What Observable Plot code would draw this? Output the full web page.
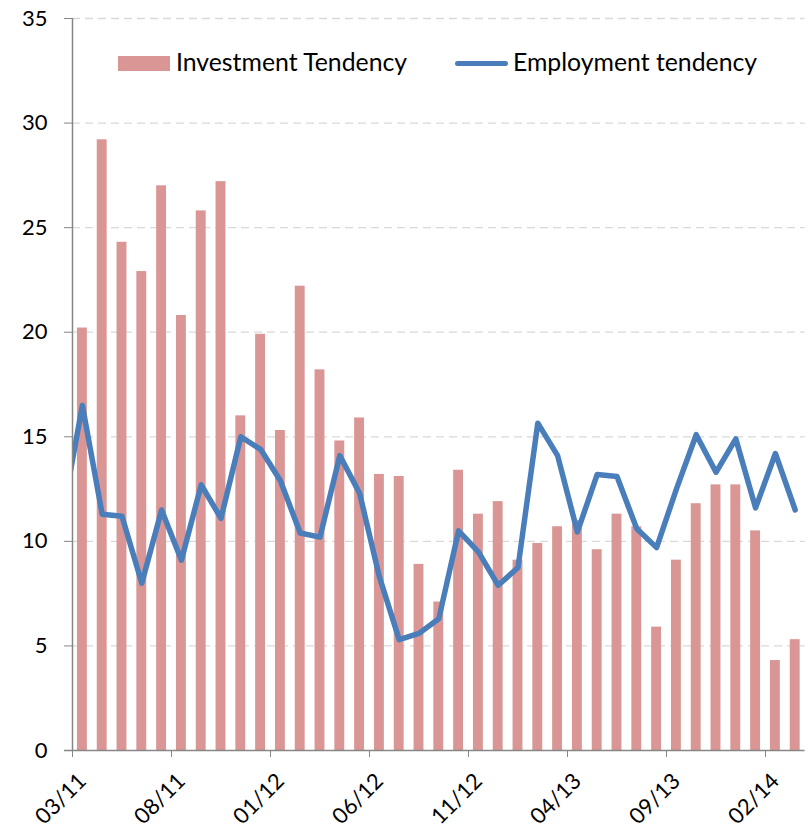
<!DOCTYPE html>
<html>
<head>
<meta charset="utf-8">
<script src="https://cdn.jsdelivr.net/npm/d3@7"></script>
<script src="https://cdn.jsdelivr.net/npm/@observablehq/plot@0.6"></script>
<style>
  body { margin: 0; background: #fff; }
  #wrap { position: relative; width: 809px; height: 832px; font-family: Lato, "Open Sans", sans-serif; }
  #wrap svg { display: block; }
  .lg { position: absolute; line-height: 1; font-size: 24.8px; color: #000; white-space: nowrap; }
  .sw { position: absolute; }
</style>
</head>
<body>
<div id="wrap"></div>
<script>
// Months shown (one bar per month, 03/11 .. 03/14)
const months = ["03/11","04/11","05/11","06/11","07/11","08/11","09/11","10/11","11/11","12/11",
  "01/12","02/12","03/12","04/12","05/12","06/12","07/12","08/12","09/12","10/12","11/12","12/12",
  "01/13","02/13","03/13","04/13","05/13","06/13","07/13","08/13","09/13","10/13","11/13","12/13",
  "01/14","02/14","03/14"];
// Investment tendency (bars)
const investment = [20.2, 29.2, 24.3, 22.9, 27.0, 20.8, 25.8, 27.2, 16.0, 19.9,
  15.3, 22.2, 18.2, 14.8, 15.9, 13.2, 13.1, 8.9, 7.1, 13.4, 11.3, 11.9,
  9.1, 9.9, 10.7, 11.0, 9.6, 11.3, 10.7, 5.9, 9.1, 11.8, 12.7, 12.7,
  10.5, 4.3, 5.3];
// Employment tendency (line); the line enters from the previous month (02/11), clipped at the axis
const employmentPrev = 11.3;
const employment = [16.5, 11.3, 11.2, 8.0, 11.5, 9.1, 12.7, 11.1, 15.0, 14.4,
  12.9, 10.4, 10.2, 14.1, 12.3, 8.3, 5.3, 5.6, 6.3, 10.5, 9.5, 7.9,
  8.75, 15.65, 14.1, 10.45, 13.2, 13.1, 10.6, 9.7, 12.5, 15.1, 13.3, 14.9,
  11.6, 14.2, 11.5];
// Axis ticks
const xTickLabels = ["03/11","08/11","01/12","06/12","11/12","04/13","09/13","02/14"];
const yTicks = [0, 5, 10, 15, 20, 25, 30, 35];
const seriesNames = ["Investment Tendency", "Employment tendency"];
const colors = ["#d99694", "#4a7ebb"];

const bars = investment.map((v, i) => ({i, v, m: months[i]}));
const line = [{i: -1, v: employmentPrev}].concat(employment.map((v, i) => ({i, v})));
const xTicks = xTickLabels.map(l => months.indexOf(l));

const chart = Plot.plot({
  width: 809,
  height: 832,
  marginLeft: 72,
  marginRight: 4.4,
  marginTop: 18,
  marginBottom: 82,
  x: {domain: [0, months.length], axis: null},
  y: {domain: [0, 35], axis: null},
  style: {fontFamily: "Lato, 'Open Sans', sans-serif", fontSize: "22px", background: "white", color: "black", overflow: "visible"},
  marks: [
    Plot.ruleY(yTicks.filter(d => d > 0), {stroke: "#d9d9d9", strokeWidth: 1.3, strokeDasharray: "8,5"}),
    Plot.rectY(bars, {x1: d => d.i + 0.25, x2: d => d.i + 0.75, y: "v", fill: colors[0]}),
    Plot.line(line, {x: d => d.i + 0.5, y: "v", stroke: colors[1], strokeWidth: 5.5, strokeLinejoin: "round", strokeLinecap: "round", clip: true}),
    Plot.ruleX([0], {stroke: "#868686", strokeWidth: 1.5}),
    Plot.ruleY([0], {x1: -0.4, x2: months.length, stroke: "#868686", strokeWidth: 1.5}),
    Plot.axisY({ticks: yTicks, tickSize: 8, tickPadding: 17, label: null, stroke: "#868686", fill: "black", fontSize: 22}),
    Plot.axisX({ticks: xTicks, tickSize: 7, tickFormat: () => "", label: null, stroke: "#868686"}),
    Plot.text(xTicks, {x: d => d, frameAnchor: "bottom", text: d => months[d], rotate: -45, textAnchor: "end", lineAnchor: "middle", dx: 10, dy: 27, fontSize: 22, fill: "black"})
  ]
});

const wrap = document.getElementById("wrap");
wrap.appendChild(chart);

function add(html) { wrap.insertAdjacentHTML("beforeend", html); }
add(`<div class="sw" style="left:118px;top:56px;width:52px;height:15px;background:${colors[0]}"></div>`);
add(`<div class="lg" style="left:176px;top:49.5px">${seriesNames[0]}</div>`);
add(`<div class="sw" style="left:455px;top:60.5px;width:53px;height:5px;border-radius:2.5px;background:${colors[1]}"></div>`);
add(`<div class="lg" style="left:513px;top:49.5px">${seriesNames[1]}</div>`);
</script>
</body>
</html>
